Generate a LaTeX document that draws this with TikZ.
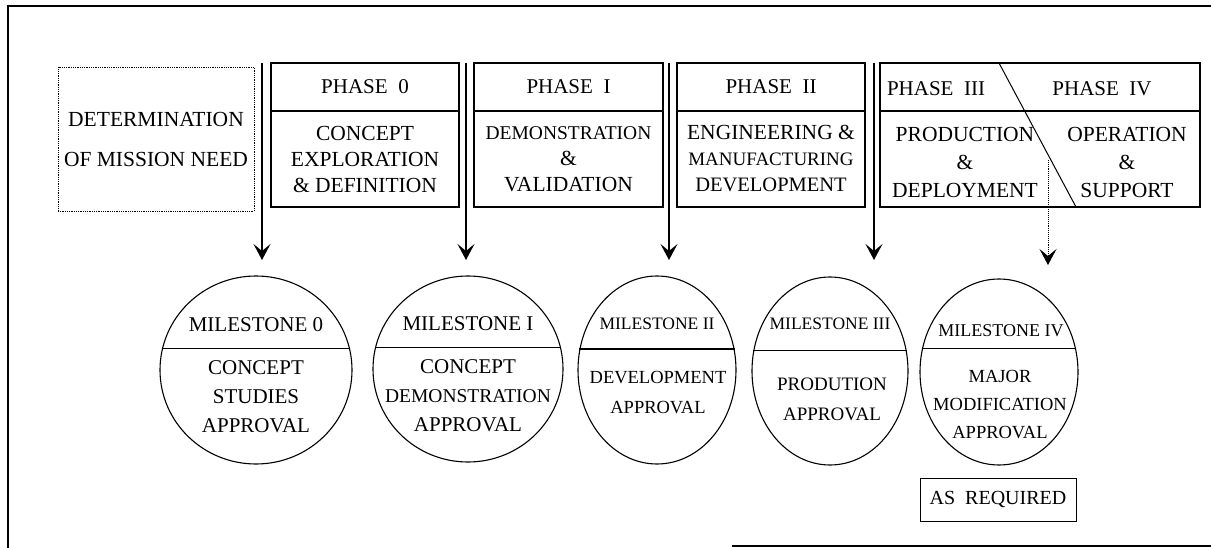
\documentclass[tikz,border=0pt]{standalone}
\usepackage{fontspec}
\setmainfont{Liberation Serif}
\usetikzlibrary{positioning,arrows.meta,shapes.geometric}

\tikzset{
  headbox/.style={draw, line width=1.1pt, outer sep=0pt, inner sep=0pt, minimum height=48pt, font=\fontsize{21}{26}\selectfont},
  bodybox/.style={draw, line width=1.1pt, outer sep=0pt, inner sep=0pt, minimum height=96pt, align=center, font=\fontsize{21.5}{26}\selectfont},
  needbox/.style={draw, densely dotted, line width=0.8pt, inner sep=0pt, minimum width=196pt, minimum height=144pt, align=center, font=\fontsize{21.5}{40}\selectfont},
  stone/.style={draw, ellipse, line width=1.1pt, inner sep=0pt},
  stonetitle/.style={inner sep=0pt, font=\fontsize{21}{26}\selectfont},
  stonetext/.style={inner sep=0pt, align=center, font=\fontsize{21}{29}\selectfont},
  chord/.style={line width=1.6pt},
  frameline/.style={line width=1.1pt}
}

\begin{document}
\begin{tikzpicture}[x=1pt, y=-1pt, >={Stealth[length=16pt,width=17pt,inset=7pt]}]
	\useasboundingbox (0,0) rectangle (1211,548);
	% outer frame
	\draw[frameline] (1211,6) -- (8,6) -- (8,548);
	\draw[frameline] (732,546) -- (1211,546);

	% phases
	\node[needbox] (need) at (156,139) {DETERMINATION\\OF MISSION NEED};

	\node[headbox, minimum width=188pt] (p0h) at (365,87) {PHASE\ \ 0};
	\node[bodybox, minimum width=188pt, below=0pt of p0h] (p0b) {CONCEPT\\EXPLORATION\\\& DEFINITION};

	\node[headbox, minimum width=189pt] (p1h) at (568.5,87) {PHASE\ \ I};
	\node[bodybox, minimum width=189pt, below=0pt of p1h] (p1b) {\fontsize{19.5}{28}\selectfont DEMONSTRATION\\\fontsize{21.5}{28}\selectfont\&\\VALIDATION};

	\node[headbox, minimum width=188pt] (p2h) at (771,87) {PHASE\ \ II};
	\node[bodybox, minimum width=188pt, below=0pt of p2h] (p2b) {ENGINEERING \&\\\fontsize{19}{26}\selectfont MANUFACTURING\\\fontsize{20.5}{26}\selectfont DEVELOPMENT};

	\node[headbox, minimum width=320pt] (p3h) at (1040,87) {};
	\node[bodybox, minimum width=320pt, below=0pt of p3h] (p3b) {};
	\draw[line width=1pt] ([xshift=119pt]p3h.north west) -- ([xshift=196pt]p3b.south west);
	\node[stonetitle] (t3) at (936,89) {PHASE\ \ III};
	\node[stonetitle] (t4) at (1102,89) {PHASE\ \ IV};
	\node[stonetext, font=\fontsize{21.5}{28}\selectfont] (b3) at (965,162) {PRODUCTION\\\&\\DEPLOYMENT};
	\node[stonetext, font=\fontsize{21.5}{28}\selectfont] (b4) at (1127,162) {OPERATION\\\&\\SUPPORT};

	% decision arrows
	\foreach \x/\n in {262/a0,466/a1,669/a2,874/a3}{
		\coordinate (\n s) at (\x,63);
		\coordinate (\n e) at (\x,260);
		\draw[->, line width=1.5pt] (\n s) -- (\n e);
	}
	\coordinate (a4s) at (1048,160);
	\coordinate (a4e) at (1048,265);
	\draw[->, densely dotted, line width=0.9pt] (a4s) -- (a4e);

	% milestones
	\node[stone, minimum width=192pt, minimum height=188pt] (m0) at (256,370) {};
	\node[stone, minimum width=190pt, minimum height=186pt] (m1) at (468,369) {};
	\node[stone, minimum width=158pt, minimum height=188pt] (m2) at (657,370) {};
	\node[stone, minimum width=156pt, minimum height=188pt] (m3) at (830,371) {};
	\node[stone, minimum width=158pt, minimum height=186pt] (m4) at (999,372) {};
	\draw[chord] (m0.167) -- (m0.13);
	\draw[chord] (m1.167) -- (m1.13);
	\draw[chord] (m2.165) -- (m2.15);
	\draw[chord] (m3.165) -- (m3.15);
	\draw[chord] (m4.163) -- (m4.17);

	\node[stonetitle] (m0t) at (256,325) {MILESTONE 0};
	\node[stonetitle] (m1t) at (468,324) {MILESTONE I};
	\node[stonetitle, font=\fontsize{17.5}{26}\selectfont] (m2t) at (657,324) {MILESTONE II};
	\node[stonetitle, font=\fontsize{17.5}{26}\selectfont] (m3t) at (830,324) {MILESTONE III};
	\node[stonetitle, font=\fontsize{18}{26}\selectfont] (m4t) at (1001,331) {MILESTONE IV};

	\node[stonetext] (m0b) at (256,397) {CONCEPT\\STUDIES\\APPROVAL};
	\node[stonetext] (m1b) at (468,396) {CONCEPT\\\fontsize{19.5}{29}\selectfont DEMONSTRATION\\\fontsize{21}{29}\selectfont APPROVAL};
	\node[stonetext, font=\fontsize{18.5}{30}\selectfont] (m2b) at (658,393) {DEVELOPMENT\\APPROVAL};
	\node[stonetext, font=\fontsize{19}{30}\selectfont] (m3b) at (832,399) {PRODUTION\\APPROVAL};
	\node[stonetext, font=\fontsize{18.5}{28}\selectfont] (m4b) at (1000,405) {MAJOR\\MODIFICATION\\APPROVAL};

	\node[draw, line width=1pt, minimum width=156pt, minimum height=43pt, font=\fontsize{20}{22}\selectfont] (req) at (998,499.5) {AS\ \ REQUIRED};
\end{tikzpicture}
\end{document}
